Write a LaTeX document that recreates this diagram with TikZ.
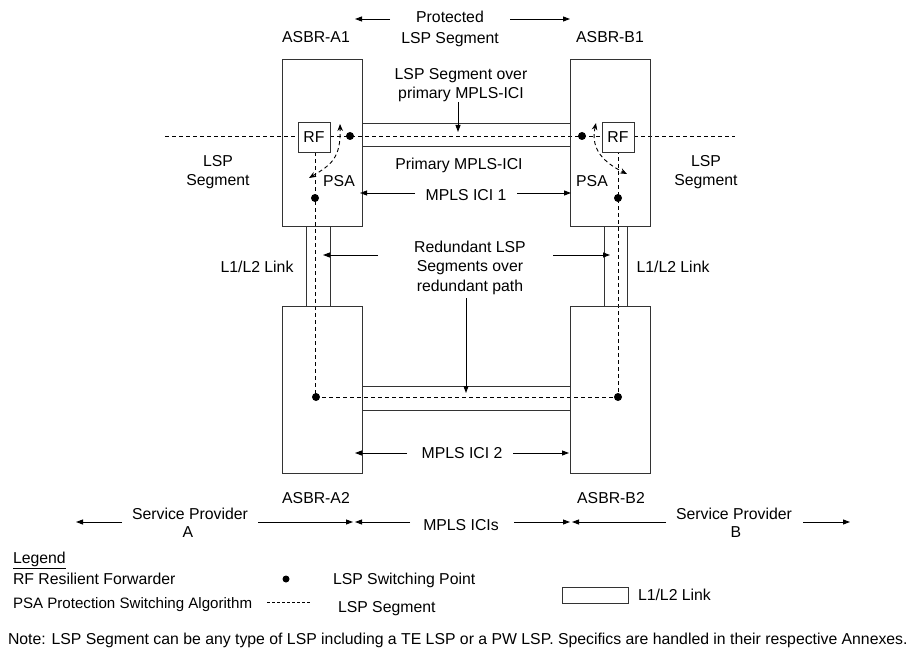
\documentclass[tikz,border=0pt]{standalone}
\usepackage{fontspec}
\setmainfont{Liberation Sans}
\usetikzlibrary{arrows.meta,backgrounds}
\begin{document}
\begin{tikzpicture}[x=1bp,y=-1bp,
  every node/.style={inner sep=0pt, outer sep=0pt},
  lbl/.style={anchor=base, font=\fontsize{15.8bp}{19bp}\selectfont},
  lblw/.style={anchor=base west, font=\fontsize{15.8bp}{19bp}\selectfont},
  router/.style={draw=black!80, line width=0.9bp, minimum width=80bp, minimum height=167bp},
  rfbox/.style={draw=black!80, fill=white, line width=0.9bp, minimum width=32bp, minimum height=30bp, font=\fontsize{15.8bp}{19bp}\selectfont},
  swpt/.style={circle, fill=black, minimum size=8bp},
  arr/.style={-{Triangle[length=7bp,width=5bp]}, line width=0.9bp},
  seg/.style={line width=0.8bp, dash pattern=on 4bp off 3bp},
  psa/.style={{Stealth[length=7bp,width=5.5bp]}-{Stealth[length=7bp,width=5.5bp]}, line width=0.9bp, dash pattern=on 4bp off 3bp},
  linkpipe/.style={draw=black!80, line width=0.9bp}
]
\useasboundingbox (0,0) rectangle (919,649);

% routers
\node[router] (A1) at (322,142.5) {};
\node[router] (B1) at (610,142.5) {};
\node[router] (A2) at (322,389.5) {};
\node[router] (B2) at (610,389.5) {};

% links
\draw[linkpipe] (362,123) rectangle (570,146);
\draw[linkpipe] (362,386) rectangle (570,410);
\draw[linkpipe] (306,226) rectangle (330,306);
\draw[linkpipe] (604,226) rectangle (627,306);

% RF boxes
\node[rfbox] (rfA) at (314,137) {RF};
\node[rfbox] (rfB) at (618,137) {RF};

% switching points
\node[swpt] (dA1) at (350,136) {};
\node[swpt] (dB1) at (582,136) {};
\node[swpt] (dA1b) at (315,198) {};
\node[swpt] (dB1b) at (618,198) {};
\node[swpt] (dA2) at (316,397) {};
\node[swpt] (dB2) at (618,397) {};

\coordinate (segL) at (165,136);
\coordinate (segR) at (735,136);

\begin{scope}[on background layer]
  \draw[seg] (segL) -- (rfA.west |- segL);
  \draw[seg] (rfA.east |- segL) -- (dA1.center) -- (dB1.center) -- (rfB.west |- segR);
  \draw[seg] (rfB.east |- segR) -- (segR);
  \draw[seg] (rfA.south -| dA1b) -- (dA1b.center) -- (dA1b |- dA2) -- (dA2.center) -- (dB2.center) -- (dB1b.center) -- (rfB.south -| dB1b);
\end{scope}

% PSA curved arrows
\coordinate (psaA1) at (309,178);
\coordinate (psaA2) at (340,124);
\coordinate (psaB1) at (596,123);
\coordinate (psaB2) at (627,174);
\draw[psa] (psaA1) .. controls (331,165) and (341,158) .. (psaA2);
\draw[psa] (psaB1) .. controls (590,150) and (605,163) .. (psaB2);

% labels top
\node[lbl] (prot) at (450,23) {Protected};
\node[lbl] (prot2) at (450,43.5) {LSP Segment};
\node[lbl] (tA1) at (316,42.5) {ASBR-A1};
\node[lbl] (tB1) at (610,42.5) {ASBR-B1};
\node[lbl] (over1) at (461,79.5) {LSP Segment over};
\node[lbl] (over2) at (461,98.5) {primary MPLS-ICI};
\node[lbl] (prim) at (459,169.5) {Primary MPLS-ICI};
\node[lbl] (ici1) at (466,200) {MPLS ICI 1};
\node[lbl] (psaAt) at (339,186) {PSA};
\node[lbl] (psaBt) at (592,186) {PSA};
\node[lbl] (lspL1) at (218,167) {LSP};
\node[lbl] (lspL2) at (218,185.5) {Segment};
\node[lbl] (lspR1) at (706,167) {LSP};
\node[lbl] (lspR2) at (706,185.5) {Segment};
\node[lbl] (lnkL) at (257,272) {L1/L2 Link};
\node[lbl] (lnkR) at (673,272) {L1/L2 Link};
\node[lbl] (red1) at (470,252) {Redundant LSP};
\node[lbl] (red2) at (470,271.5) {Segments over};
\node[lbl] (red3) at (470,291.5) {redundant path};
\node[lbl] (ici2) at (462,458.5) {MPLS ICI 2};
\node[lbl] (tA2) at (316,503) {ASBR-A2};
\node[lbl] (tB2) at (611,503) {ASBR-B2};
\node[lbl] (spA1) at (190,519) {Service Provider};
\node[lbl] (spA2) at (188,537.5) {A};
\node[lbl] (icis) at (461,530) {MPLS ICIs};
\node[lbl] (spB1) at (734,519) {Service Provider};
\node[lbl] (spB2) at (736,537.5) {B};

% arrows top
\coordinate (pL0) at (390,19); \coordinate (pL1) at (355,19);
\coordinate (pR0) at (510,19); \coordinate (pR1) at (570,19);
\draw[arr] (pL0) -- (pL1);
\draw[arr] (pR0) -- (pR1);
\draw[arr] (458,102) -- (458,132);
\coordinate (i1L0) at (415,193); \coordinate (i1L1) at (360,193);
\coordinate (i1R0) at (517,193); \coordinate (i1R1) at (571,193);
\draw[arr] (i1L0) -- (i1L1);
\draw[arr] (i1R0) -- (i1R1);
\coordinate (rL0) at (378,255); \coordinate (rL1) at (323,255);
\coordinate (rR0) at (553,255); \coordinate (rR1) at (610,255);
\draw[arr] (rL0) -- (rL1);
\draw[arr] (rR0) -- (rR1);
\coordinate (rD0) at (466,298); \coordinate (rD1) at (466,393);
\draw[arr] (rD0) -- (rD1);
\coordinate (i2L0) at (407,453); \coordinate (i2L1) at (355,453);
\coordinate (i2R0) at (513,453); \coordinate (i2R1) at (569,453);
\draw[arr] (i2L0) -- (i2L1);
\draw[arr] (i2R0) -- (i2R1);

% bottom arrows
\coordinate (b1) at (122,522); \coordinate (b1t) at (76,522);
\coordinate (b2) at (258,522); \coordinate (b2t) at (353,522);
\coordinate (b3) at (410,522); \coordinate (b3t) at (355,522);
\coordinate (b4) at (514,522); \coordinate (b4t) at (570,522);
\coordinate (b5) at (666,522); \coordinate (b5t) at (572,522);
\coordinate (b6) at (803,522); \coordinate (b6t) at (850,522);
\foreach \s/\t in {b1/b1t,b2/b2t,b3/b3t,b4/b4t,b5/b5t,b6/b6t} \draw[arr] (\s) -- (\t);

% legend
\node[lblw] (leg) at (13,563.5) {\underline{Legend}};
\node[lblw] (legRF) at (13,584.5) {RF Resilient Forwarder};
\node[lblw, font=\fontsize{15.1bp}{19bp}\selectfont] (legPSA) at (13,608.5) {PSA Protection Switching Algorithm};
\node[swpt, minimum size=7bp] (legdot) at (286,579) {};
\node[lblw] (legSP) at (333,584.5) {LSP Switching Point};
\coordinate (ls0) at (267,602); \coordinate (ls1) at (312,602);
\draw[line width=0.8bp, dash pattern=on 3bp off 2bp] (ls0) -- (ls1);
\node[lblw] (legSeg) at (338,612) {LSP Segment};
\draw[linkpipe] (562,587) rectangle (628,603);
\node[lblw] (legLnk) at (638,600) {L1/L2 Link};

\node[lblw] (note) at (8,644) {Note: LSP Segment can be any type of LSP including a TE LSP or a PW LSP. Specifics are handled in their respective Annexes.};
\end{tikzpicture}
\end{document}
